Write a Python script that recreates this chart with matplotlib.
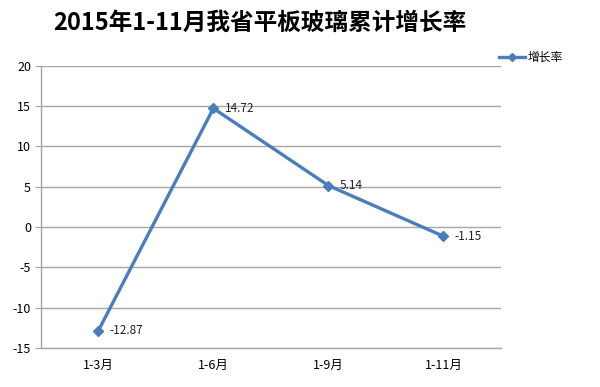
import matplotlib
matplotlib.use("Agg")
import matplotlib.pyplot as plt

plt.rcParams["font.family"] = ["Noto Sans CJK SC", "DejaVu Sans"]
plt.rcParams["axes.unicode_minus"] = False

categories = ["1-3月", "1-6月", "1-9月", "1-11月"]
growth = [-12.87, 14.72, 5.14, -1.15]
yticks = [-15, -10, -5, 0, 5, 10, 15, 20]

LINE = "#4a7ebb"
GRID = "#a6a6a6"

fig = plt.figure(figsize=(6.0, 3.87), dpi=100)
ax = fig.add_axes([0.068, 0.101, 0.767, 0.729])

xs = [i + 0.5 for i in range(len(categories))]
ax.plot(xs, growth, color=LINE, lw=2.4, marker="D", ms=5.5, label="增长率")
for x, v in zip(xs, growth):
    ax.annotate(f"{v:.2f}", (x, v), xytext=(8, 0), textcoords="offset points",
                va="center", ha="left", fontsize=8.5, color="#222222")

ax.set_xlim(0, len(categories))
ax.set_ylim(-15, 20)
ax.set_yticks(yticks)
ax.set_xticks(xs)
ax.set_xticklabels(categories)
ax.tick_params(axis="x", length=0, pad=8, labelsize=9)
ax.tick_params(axis="y", length=4, color=GRID, labelsize=9, pad=3)
ax.grid(axis="y", color=GRID, lw=1)
ax.set_axisbelow(True)
for s in ["top", "right"]:
    ax.spines[s].set_visible(False)
for s in ["left", "bottom"]:
    ax.spines[s].set_color(GRID)
    ax.spines[s].set_linewidth(1)

fig.text(0.433, 0.942, "2015年1-11月我省平板玻璃累计增长率", ha="center", va="center",
         fontsize=17, fontweight="bold")
ax.legend(loc="upper left", bbox_to_anchor=(0.985, 1.07), frameon=False,
          fontsize=8.5, handlelength=2.2, handletextpad=0.2, borderaxespad=0,
          markerscale=0.8)

fig.savefig("out.png", dpi=100)
